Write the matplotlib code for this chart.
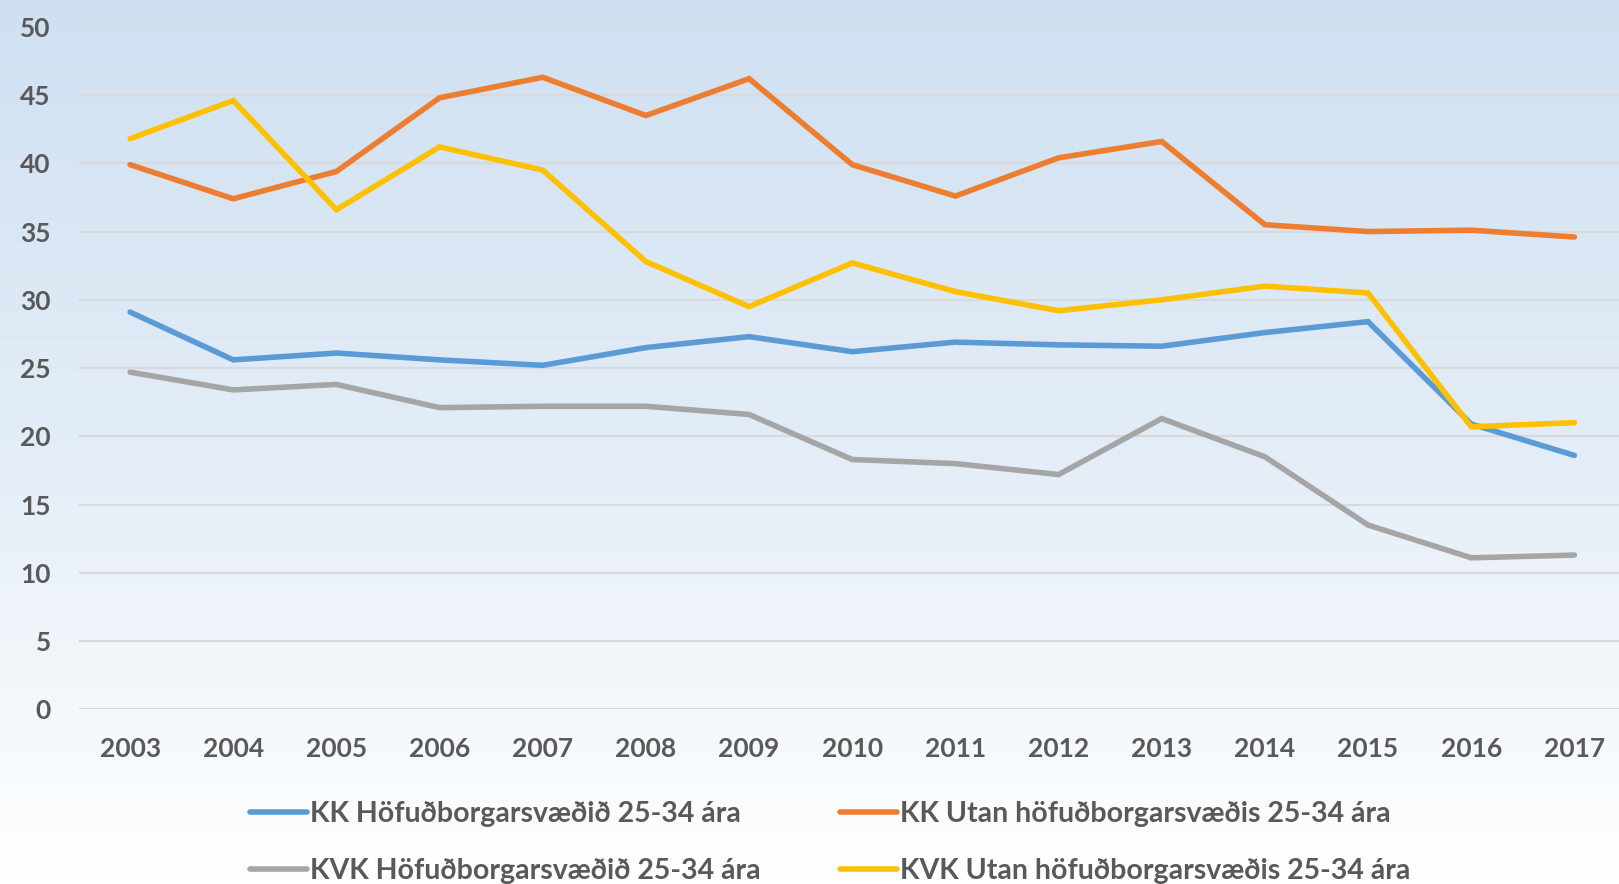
import matplotlib
matplotlib.use("Agg")
import matplotlib.pyplot as plt
import numpy as np
from matplotlib.colors import LinearSegmentedColormap

plt.rcParams['font.family'] = ['Lato', 'DejaVu Sans']

years = [str(y) for y in range(2003, 2018)]
kk_hofud = [29.1, 25.6, 26.1, 25.6, 25.2, 26.5, 27.3, 26.2, 26.9, 26.7, 26.6, 27.6, 28.4, 20.9, 18.6]
kk_utan = [39.9, 37.4, 39.4, 44.8, 46.3, 43.5, 46.2, 39.9, 37.6, 40.4, 41.6, 35.5, 35.0, 35.1, 34.6]
kvk_hofud = [24.7, 23.4, 23.8, 22.1, 22.2, 22.2, 21.6, 18.3, 18.0, 17.2, 21.3, 18.5, 13.5, 11.1, 11.3]
kvk_utan = [41.8, 44.6, 36.6, 41.2, 39.5, 32.8, 29.5, 32.7, 30.6, 29.2, 30.0, 31.0, 30.5, 20.7, 21.0]

series = [
    ("KK Höfuðborgarsvæðið 25-34 ára", kk_hofud, "#5B9BD5"),
    ("KK Utan höfuðborgarsvæðis 25-34 ára", kk_utan, "#ED7D31"),
    ("KVK Höfuðborgarsvæðið 25-34 ára", kvk_hofud, "#A5A5A5"),
    ("KVK Utan höfuðborgarsvæðis 25-34 ára", kvk_utan, "#FFC000"),
]

fig = plt.figure(figsize=(16.19, 8.84), dpi=100)

bg = fig.add_axes([0, 0, 1, 1], zorder=-10)
cmap = LinearSegmentedColormap.from_list("bg", ["#CFE0F1", "#E3EDF7", "#FFFFFF"])
grad = np.linspace(0, 1, 256).reshape(-1, 1)
bg.imshow(grad, aspect='auto', cmap=cmap, extent=[0, 1, 0, 1], origin='upper')
bg.axis('off')

ax = fig.add_axes([0.0485, 0.1976, 1.0043 - 0.0485, 0.9697 - 0.1976])
ax.patch.set_alpha(0)
x = np.arange(len(years))
handles = []
for name, vals, col in series:
    h, = ax.plot(x, vals, color=col, lw=4.0, label=name, solid_capstyle='round', solid_joinstyle='miter')
    handles.append(h)

ax.set_xlim(-0.5, len(years) - 0.5)
ax.set_ylim(0, 50)
ax.set_yticks(range(0, 51, 5))
ax.set_xticks(x)
ax.set_xticklabels(years)
ax.grid(axis='y', color='#D9D9D9', lw=1.6)
ax.set_axisbelow(True)
for s in ax.spines.values():
    s.set_visible(False)
ax.tick_params(length=0, labelsize=19, labelcolor='#595959')
ax.tick_params(axis='y', pad=20)
ax.tick_params(axis='x', pad=20)
for lab in ax.get_xticklabels() + ax.get_yticklabels():
    lab.set_fontweight('bold')

leg = fig.legend(handles=[handles[0], handles[2], handles[1], handles[3]],
                 labels=[series[0][0], series[2][0], series[1][0], series[3][0]],
                 ncol=2, loc='center left', bbox_to_anchor=(0.1387, 0.047),
                 frameon=False, handlelength=2.0, handletextpad=0.1,
                 columnspacing=2.8, labelspacing=1.1,
                 prop={'size': 20.5, 'weight': 'bold'})
for t in leg.get_texts():
    t.set_color('#595959')

fig.savefig("out.png", dpi=100)
